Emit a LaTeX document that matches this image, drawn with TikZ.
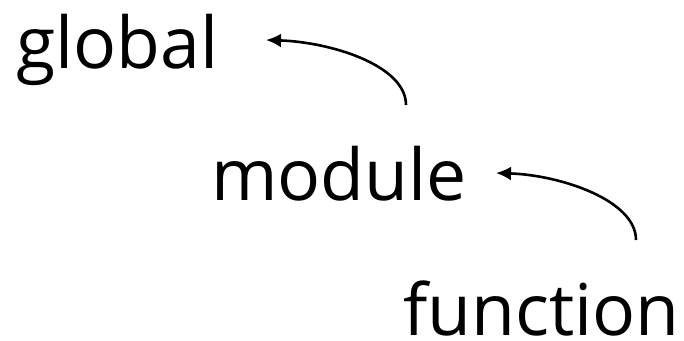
\documentclass[tikz,border=0pt]{standalone}
\usepackage{fontspec}
\setmainfont{Open Sans}
\usetikzlibrary{arrows.meta}
\begin{document}
\begin{tikzpicture}[x=1pt,y=-1pt,
  scopename/.style={anchor=base west, inner sep=0pt, text depth=0pt, font=\fontsize{71.5}{78}\selectfont},
  lookup/.style={line width=2.6pt, -{Latex[length=15pt,width=14pt]}}]
\useasboundingbox (0,0) rectangle (684,340);
\node[scopename] (global) at (16,68) {global};
\node[scopename] (module) at (211,200) {module};
\node[scopename] (function) at (403,335) {function};
\coordinate (m-up) at (406,105);
\coordinate (g-in) at (266,40);
\coordinate (f-up) at (636,240);
\coordinate (m-in) at (496,173);
\draw[lookup] (m-up) .. controls (406,65) and (330,42) .. (g-in);
\draw[lookup] (f-up) .. controls (636,200) and (560,175) .. (m-in);
\end{tikzpicture}
\end{document}
